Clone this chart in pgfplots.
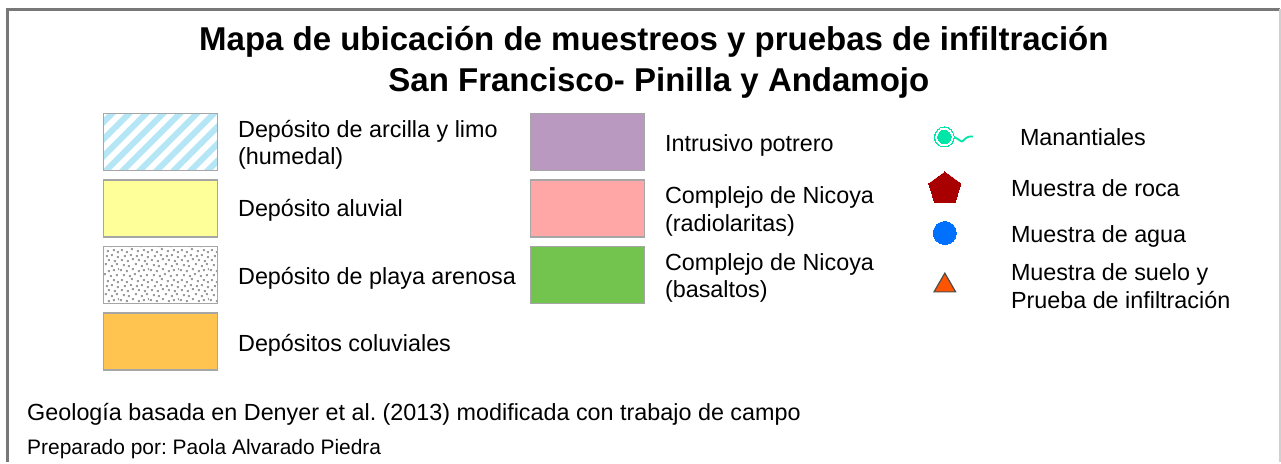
\documentclass[border=0pt]{standalone}
\usepackage{fontspec}
\setmainfont{Liberation Sans}
\usepackage{pgfplots}
\pgfplotsset{compat=1.18}
\usetikzlibrary{patterns,patterns.meta}
\definecolor{frameg}{HTML}{787878}
\definecolor{frameb}{HTML}{D0D0D0}
\definecolor{swg}{HTML}{A6A6A6}
\definecolor{dots}{HTML}{9C9C9C}
\definecolor{humedal}{HTML}{B5E6F5}
\definecolor{aluvial}{HTML}{FFFF99}
\definecolor{coluvial}{HTML}{FFC34F}
\definecolor{intrusivo}{HTML}{B999BF}
\definecolor{radiol}{HTML}{FFA6A6}
\definecolor{basalto}{HTML}{73C34F}
\definecolor{manantial}{HTML}{00E6A8}
\definecolor{roca}{HTML}{A80000}
\definecolor{agua}{HTML}{0070FF}
\definecolor{suelo}{HTML}{FF5500}
% irregular sand dots
\pgfdeclarepatternformonly{arena}{\pgfpointorigin}{\pgfqpoint{30pt}{30pt}}{\pgfqpoint{30pt}{30pt}}{
  \foreach \x/\y in {2/3,7/1,12/4,18/2,24/3,28/1,4/8,10/7,15/9,21/7,27/8,1/13,7/12,13/14,19/12,24/13,29/14,
    4/18,9/17,16/19,22/17,27/19,2/23,8/22,13/24,19/23,25/22,5/27,11/28,17/27,22/28,28/26}{
    \pgfpathrectangle{\pgfqpoint{\x pt}{\y pt}}{\pgfqpoint{1.9pt}{1.9pt}}
  }
  \pgfusepath{fill}
}
\newcommand{\body}{\fontsize{23.35}{27}\selectfont}
\frenchspacing
\begin{document}
\begin{tikzpicture}[
  lbl/.style={anchor=base west, inner sep=0pt, text=black, font=\body, yshift=-1pt},
  ttl/.style={anchor=base, inner sep=0pt, text=black, font=\fontsize{33}{38}\bfseries\selectfont}
]
\begin{axis}[
  scale only axis, width=1281pt, height=462pt,
  xmin=0, xmax=1281, ymin=0, ymax=462, y dir=reverse,
  axis lines=none, clip=false
]
% keeps the whole canvas in the bounding box
\addplot[draw=none] coordinates {(0,0) (1281,462)};
% frame
\addplot[frameg, line width=2.5pt] coordinates {(7.5,462) (7.5,9.5) (1280,9.5)};
\addplot[frameb, line width=1.5pt] coordinates {(1280,9.5) (1280,462)};

% swatches, first column
\addplot[draw=swg, line width=1.2pt, pattern={Lines[angle=45,distance=12pt,line width=6pt]}, pattern color=humedal]
  coordinates {(103.5,113.5) (217.5,113.5) (217.5,170.5) (103.5,170.5)} --cycle;
\addplot[draw=swg, line width=1.2pt, fill=aluvial]
  coordinates {(103.5,180) (217.5,180) (217.5,237) (103.5,237)} --cycle;
\addplot[draw=swg, line width=1.2pt, pattern=arena, pattern color=dots]
  coordinates {(103.5,246.5) (217.5,246.5) (217.5,303.5) (103.5,303.5)} --cycle;
\addplot[draw=swg, line width=1.2pt, fill=coluvial]
  coordinates {(103.5,313) (217.5,313) (217.5,370) (103.5,370)} --cycle;
% swatches, second column
\addplot[draw=swg, line width=1.2pt, fill=intrusivo]
  coordinates {(530.5,113.5) (644.5,113.5) (644.5,170.5) (530.5,170.5)} --cycle;
\addplot[draw=swg, line width=1.2pt, fill=radiol]
  coordinates {(530.5,180) (644.5,180) (644.5,237) (530.5,237)} --cycle;
\addplot[draw=swg, line width=1.2pt, fill=basalto]
  coordinates {(530.5,246.5) (644.5,246.5) (644.5,303.5) (530.5,303.5)} --cycle;

% symbols
\addplot[manantial, only marks, mark=*, mark size=10pt, mark options={draw=manantial, fill=manantial, line width=0pt}] coordinates {(944.5,137)};
\addplot[white, only marks, mark=*, mark size=8.7pt, mark options={draw=white, fill=white, line width=0pt}] coordinates {(944.5,137)};
\addplot[manantial, only marks, mark=*, mark size=6.7pt, mark options={draw=manantial, fill=manantial, line width=0pt}] coordinates {(944.5,137)};
\addplot[manantial, line width=1.8pt, smooth] coordinates {(954,137) (958,139) (962,141.5) (965,139) (968,137) (970.5,136.5) (973,136.5)};
\addplot[roca, only marks, mark=pentagon*, mark size=17pt, mark options={draw=roca, fill=roca, line width=0pt}] coordinates {(945,189)};
\addplot[agua, only marks, mark=*, mark size=11.5pt, mark options={draw=agua, fill=agua, line width=0pt}] coordinates {(945,233)};
\addplot[only marks, mark=triangle*, mark size=12.5pt, mark options={draw=black!70, fill=suelo, line width=1.2pt}] coordinates {(945,285.7)};

% title
\node[ttl] at (axis cs:654,51) {Mapa de ubicación de muestreos y pruebas de infiltración};
\node[ttl] at (axis cs:659,92) {San Francisco- Pinilla y Andamojo};

% labels
\node[lbl] at (axis cs:238,137) {Depósito de arcilla y limo};
\node[lbl] at (axis cs:238,164) {(humedal)};
\node[lbl] at (axis cs:238,216) {Depósito aluvial};
\node[lbl] at (axis cs:238,284) {Depósito de playa arenosa};
\node[lbl] at (axis cs:238,351) {Depósitos coluviales};
\node[lbl] at (axis cs:665,151) {Intrusivo potrero};
\node[lbl] at (axis cs:665,203) {Complejo de Nicoya};
\node[lbl] at (axis cs:665,231) {(radiolaritas)};
\node[lbl] at (axis cs:665,270) {Complejo de Nicoya};
\node[lbl] at (axis cs:665,297) {(basaltos)};
\node[lbl] at (axis cs:1020,145) {Manantiales};
\node[lbl] at (axis cs:1011,196) {Muestra de roca};
\node[lbl] at (axis cs:1011,242) {Muestra de agua};
\node[lbl] at (axis cs:1011,280) {Muestra de suelo y};
\node[lbl] at (axis cs:1011,308) {Prueba de infiltración};
\node[lbl] at (axis cs:27,420) {Geología basada en Denyer et al. (2013) modificada con trabajo de campo};
\node[lbl, font=\fontsize{20.95}{24}\selectfont] at (axis cs:27,454) {Preparado por: Paola Alvarado Piedra};
\end{axis}
\end{tikzpicture}
\end{document}
